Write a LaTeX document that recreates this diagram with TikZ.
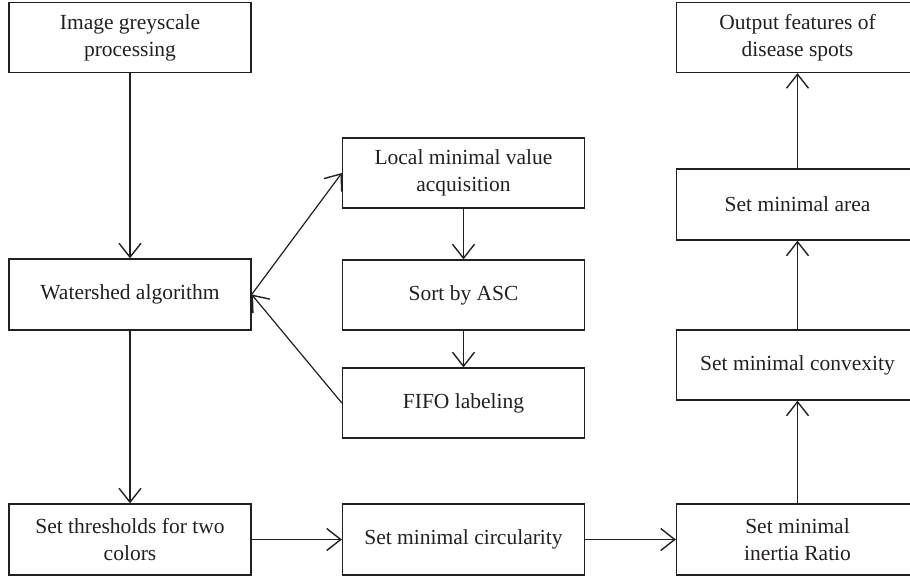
\documentclass[tikz,border=0pt]{standalone}
\usepackage{fontspec}
\setmainfont{Liberation Serif}
\usetikzlibrary{arrows.meta}
\definecolor{ink}{HTML}{231F20}
\tikzset{
  box/.style={draw=ink, line width=1.3pt, rectangle, minimum width=242pt, minimum height=70pt,
    align=center, inner sep=0pt, text=ink, font=\fontsize{21.5}{27}\selectfont},
  conn/.style={draw=ink, line width=1.2pt, -{Straight Barb[length=14pt, width=22pt, line width=1.4pt]}}
}
\begin{document}
\begin{tikzpicture}[x=1pt,y=1pt]
\useasboundingbox (0,0) rectangle (910,-578);
% left column
\node[box] (img) at (130,-37.5) {Image greyscale\\processing};
\node[box, minimum height=71pt] (ws) at (130,-294.5) {Watershed algorithm};
\node[box, minimum height=71pt] (thr) at (130,-539.5) {Set thresholds for two\\colors};
% middle column
\node[box] (loc) at (463.5,-173) {Local minimal value\\acquisition};
\node[box] (sort) at (463.5,-295) {Sort by ASC};
\node[box] (fifo) at (463.5,-403) {FIFO labeling};
\node[box, minimum height=71pt] (circ) at (463.5,-539.5) {Set minimal circularity};
% right column
\node[box] (out) at (797.5,-37.5) {Output features of\\disease spots};
\node[box, minimum height=71pt] (area) at (797.5,-204.5) {Set minimal area};
\node[box] (conv) at (797.5,-365) {Set minimal convexity};
\node[box, minimum height=71pt] (inert) at (797.5,-539.5) {Set minimal\\inertia Ratio};
% connectors
\draw[conn] (img) -- (ws);
\draw[conn] (ws) -- (thr);
\draw[conn] (ws.east) -- (loc.west);
\draw[conn] (loc) -- (sort);
\draw[conn] (sort) -- (fifo);
\draw[conn] (fifo.west) -- (ws.east);
\draw[conn] (thr) -- (circ);
\draw[conn] (circ) -- (inert);
\draw[conn] (inert) -- (conv);
\draw[conn] (conv) -- (area);
\draw[conn] (area) -- (out);
\end{tikzpicture}
\end{document}
